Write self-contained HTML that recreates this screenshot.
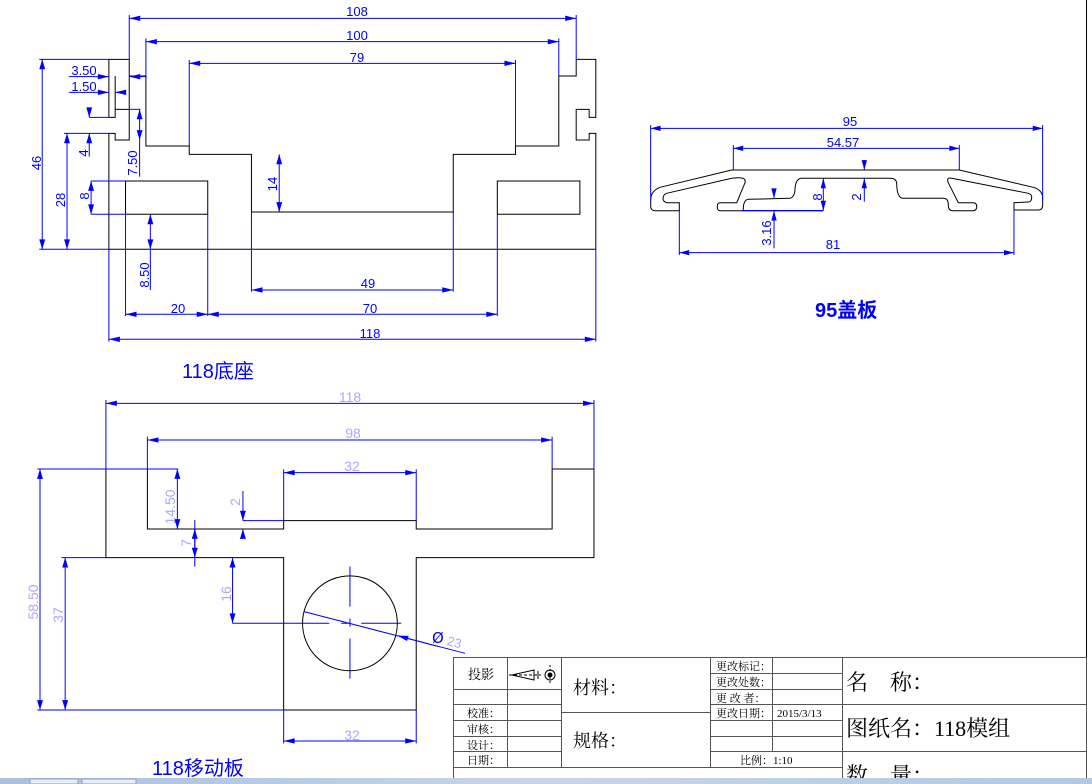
<!DOCTYPE html>
<html><head><meta charset="utf-8"><style>
html,body{margin:0;padding:0;background:#fff;}
svg{display:block;}
.d{font-family:"Liberation Sans",sans-serif;font-size:13px;fill:#0000ff;text-anchor:middle;}
.l{font-family:"Liberation Sans",sans-serif;font-size:14px;fill:#a8a8ff;text-anchor:middle;}
.t{font-family:"Liberation Serif","Noto Serif CJK SC",serif;fill:#000;}
.lab{font-family:"Liberation Sans","Noto Sans CJK SC",sans-serif;font-size:20px;fill:#0000ff;}
</style></head><body>
<svg width="1092" height="784" viewBox="0 0 1092 784" xmlns="http://www.w3.org/2000/svg">
<defs>
<marker id="a" markerUnits="userSpaceOnUse" markerWidth="40" markerHeight="40" viewBox="-30 -10 35 20" refX="0" refY="0" orient="auto-start-reverse"><path d="M0,0 L-26,-7 L-26,7 z" fill="#0000ff"/></marker>
</defs>
<rect width="1092" height="784" fill="#fff"/>
<line x1="1086.5" y1="0" x2="1086.5" y2="778" stroke="#000" stroke-width="1"/>

<!-- TOP DRAWING -->
<g transform="translate(30,0) scale(0.3703,0.3333)" fill="none" stroke-width="1">
<g stroke="#000" vector-effect="non-scaling-stroke">
<polyline vector-effect="non-scaling-stroke" points="213,352 213,178 268,178 268,420 230,420 230,400 213,400 213,748 1528,748 1528,400 1510,400 1510,420 1475,420 1475,328 1510,328 1510,352 1528,352 1528,178 1475,178 1475,228 1428,228 1428,438 1311,438 1311,463 1143,463 1143,636 598,636 598,463 430,463 430,438 313,438 313,228 268,228"/>
<polyline vector-effect="non-scaling-stroke" points="213,352 230,352 230,328 268,328"/>
<polyline vector-effect="non-scaling-stroke" points="230,228 230,328"/>
<rect vector-effect="non-scaling-stroke" x="258" y="543" width="222" height="100"/>
<rect vector-effect="non-scaling-stroke" x="1262" y="543" width="223" height="100"/>
</g>
<g stroke="#0000ff">
<line vector-effect="non-scaling-stroke" x1="268" y1="55" x2="1475" y2="55" marker-start="url(#a)" marker-end="url(#a)"/>
<line vector-effect="non-scaling-stroke" x1="268" y1="45" x2="268" y2="178"/><line vector-effect="non-scaling-stroke" x1="1475" y1="45" x2="1475" y2="178"/>
<line vector-effect="non-scaling-stroke" x1="313" y1="125" x2="1428" y2="125" marker-start="url(#a)" marker-end="url(#a)"/>
<line vector-effect="non-scaling-stroke" x1="313" y1="115" x2="313" y2="228"/><line vector-effect="non-scaling-stroke" x1="1428" y1="115" x2="1428" y2="228"/>
<line vector-effect="non-scaling-stroke" x1="430" y1="190" x2="1311" y2="190" marker-start="url(#a)" marker-end="url(#a)"/>
<line vector-effect="non-scaling-stroke" x1="430" y1="180" x2="430" y2="438"/><line vector-effect="non-scaling-stroke" x1="1311" y1="180" x2="1311" y2="438"/>
<line vector-effect="non-scaling-stroke" x1="33" y1="178" x2="33" y2="748" marker-start="url(#a)" marker-end="url(#a)"/>
<line vector-effect="non-scaling-stroke" x1="25" y1="178" x2="213" y2="178"/><line vector-effect="non-scaling-stroke" x1="25" y1="748" x2="213" y2="748"/>
<line vector-effect="non-scaling-stroke" x1="100" y1="400" x2="100" y2="748" marker-start="url(#a)" marker-end="url(#a)"/>
<line vector-effect="non-scaling-stroke" x1="92" y1="400" x2="213" y2="400"/>
<line vector-effect="non-scaling-stroke" x1="105" y1="230" x2="213" y2="230" marker-end="url(#a)"/>
<line vector-effect="non-scaling-stroke" x1="315" y1="230" x2="268" y2="230" marker-end="url(#a)"/>
<line vector-effect="non-scaling-stroke" x1="105" y1="277" x2="213" y2="277" marker-end="url(#a)"/>
<line vector-effect="non-scaling-stroke" x1="252" y1="277" x2="230" y2="277" marker-end="url(#a)"/>
<line vector-effect="non-scaling-stroke" x1="160" y1="325" x2="160" y2="352" marker-end="url(#a)"/>
<line vector-effect="non-scaling-stroke" x1="160" y1="470" x2="160" y2="400" marker-end="url(#a)"/>
<line vector-effect="non-scaling-stroke" x1="160" y1="352" x2="213" y2="352"/>
<line vector-effect="non-scaling-stroke" x1="296" y1="328" x2="296" y2="420" marker-start="url(#a)" marker-end="url(#a)"/>
<line vector-effect="non-scaling-stroke" x1="296" y1="420" x2="296" y2="530"/>
<line vector-effect="non-scaling-stroke" x1="268" y1="328" x2="298" y2="328"/>
<line vector-effect="non-scaling-stroke" x1="165" y1="543" x2="165" y2="643" marker-start="url(#a)" marker-end="url(#a)"/>
<line vector-effect="non-scaling-stroke" x1="165" y1="543" x2="258" y2="543"/><line vector-effect="non-scaling-stroke" x1="165" y1="643" x2="258" y2="643"/>
<line vector-effect="non-scaling-stroke" x1="325" y1="643" x2="325" y2="748" marker-start="url(#a)" marker-end="url(#a)"/>
<line vector-effect="non-scaling-stroke" x1="325" y1="748" x2="325" y2="870"/>
<line vector-effect="non-scaling-stroke" x1="673" y1="463" x2="673" y2="636" marker-start="url(#a)" marker-end="url(#a)"/>
<line vector-effect="non-scaling-stroke" x1="598" y1="870" x2="1143" y2="870" marker-start="url(#a)" marker-end="url(#a)"/>
<line vector-effect="non-scaling-stroke" x1="598" y1="636" x2="598" y2="875"/><line vector-effect="non-scaling-stroke" x1="1143" y1="636" x2="1143" y2="875"/>
<line vector-effect="non-scaling-stroke" x1="258" y1="943" x2="480" y2="943" marker-start="url(#a)" marker-end="url(#a)"/>
<line vector-effect="non-scaling-stroke" x1="480" y1="943" x2="1262" y2="943" marker-start="url(#a)" marker-end="url(#a)"/>
<line vector-effect="non-scaling-stroke" x1="258" y1="643" x2="258" y2="948"/><line vector-effect="non-scaling-stroke" x1="480" y1="643" x2="480" y2="948"/><line vector-effect="non-scaling-stroke" x1="1262" y1="643" x2="1262" y2="948"/>
<line vector-effect="non-scaling-stroke" x1="213" y1="1018" x2="1528" y2="1018" marker-start="url(#a)" marker-end="url(#a)"/>
<line vector-effect="non-scaling-stroke" x1="213" y1="748" x2="213" y2="1025"/><line vector-effect="non-scaling-stroke" x1="1528" y1="748" x2="1528" y2="1025"/>
</g>
</g>
<text class="d" x="357" y="16">108</text>
<text class="d" x="357" y="40">100</text>
<text class="d" x="357" y="62">79</text>
<text class="d" x="84" y="75">3.50</text>
<text class="d" x="84" y="91">1.50</text>
<text class="d" transform="translate(41,163) rotate(-90)">46</text>
<text class="d" transform="translate(65,200) rotate(-90)">28</text>
<text class="d" transform="translate(88,153) rotate(-90)">4</text>
<text class="d" transform="translate(137,163) rotate(-90)">7.50</text>
<text class="d" transform="translate(89,196) rotate(-90)">8</text>
<text class="d" transform="translate(149,275) rotate(-90)">8.50</text>
<text class="d" transform="translate(277,184) rotate(-90)">14</text>
<text class="d" x="368" y="288">49</text>
<text class="d" x="178" y="313">20</text>
<text class="d" x="370" y="313">70</text>
<text class="d" x="370" y="338">118</text>
<text class="lab" x="182" y="378">118底座</text>

<!-- RIGHT DRAWING -->
<path d="M731.7,170 L660,187.3 Q650.7,191 650.7,200 L650.7,206.7 Q651,210.7 655,210.7 L679.3,210.7 L679.3,202.7 L666.7,202.7 Q662,201 663.3,197.3 Q663.5,194.5 666.7,193.3 L731.7,178.3 Q747,176 745,182.7 L736.7,202.7 L720,202.7 Q717,203 717.3,206.7 Q717.3,210.7 720,210.7 L743.3,210.7 Q743,200 748.3,199.3 L790,198.3 Q795,197 795,188.3 Q796,178.3 801.7,178.3 L890,178.3 Q896.7,178.3 896.7,184 Q897,198.3 903.3,198.3 L943.3,198.3 Q948.3,198.3 948.3,205 Q948.3,210.7 953,210.7 L973.3,210.7 Q977,210 976.7,206.7 Q976.7,202.7 973.3,202.7 L958.3,202.7 L948.3,182.7 Q946,177 951.7,178.3 L1028.3,193.3 Q1032,194.5 1031.7,197.3 Q1031.7,202 1028.3,202 L1014,202.7 L1014,210 L1038.3,210 Q1042.7,210 1042.7,205 L1042.7,198.3 Q1042.7,190 1033.3,187.3 L959.3,170 Z" fill="none" stroke="#000" stroke-width="1"/>
<g transform="translate(630,110) scale(0.3333)" fill="none" stroke="#0000ff">
<line vector-effect="non-scaling-stroke" x1="62" y1="55" x2="1238" y2="55" marker-start="url(#a)" marker-end="url(#a)"/>
<line vector-effect="non-scaling-stroke" x1="62" y1="45" x2="62" y2="270"/><line vector-effect="non-scaling-stroke" x1="1238" y1="45" x2="1238" y2="270"/>
<line vector-effect="non-scaling-stroke" x1="310" y1="115" x2="988" y2="115" marker-start="url(#a)" marker-end="url(#a)"/>
<line vector-effect="non-scaling-stroke" x1="310" y1="105" x2="310" y2="180"/><line vector-effect="non-scaling-stroke" x1="988" y1="105" x2="988" y2="180"/>
<line vector-effect="non-scaling-stroke" x1="703" y1="150" x2="703" y2="180" marker-end="url(#a)"/>
<line vector-effect="non-scaling-stroke" x1="703" y1="275" x2="703" y2="205" marker-end="url(#a)"/>
<line vector-effect="non-scaling-stroke" x1="580" y1="205" x2="580" y2="302" marker-start="url(#a)" marker-end="url(#a)"/>
<line vector-effect="non-scaling-stroke" x1="432" y1="236" x2="432" y2="265" marker-end="url(#a)"/>
<line vector-effect="non-scaling-stroke" x1="432" y1="415" x2="432" y2="302" marker-end="url(#a)"/>
<line x1="335" y1="302" x2="580" y2="302" stroke-width="4"/>
<line vector-effect="non-scaling-stroke" x1="148" y1="428" x2="1152" y2="428" marker-start="url(#a)" marker-end="url(#a)"/>
<line vector-effect="non-scaling-stroke" x1="148" y1="300" x2="148" y2="435"/><line vector-effect="non-scaling-stroke" x1="1152" y1="300" x2="1152" y2="435"/>
</g>
<text class="d" x="850" y="126">95</text>
<text class="d" x="843" y="147">54.57</text>
<text class="d" transform="translate(861,197) rotate(-90)">2</text>
<text class="d" transform="translate(822,197) rotate(-90)">8</text>
<text class="d" transform="translate(771,233) rotate(-90)">3.16</text>
<text class="d" x="833" y="249">81</text>
<text class="lab" x="815" y="317" style="font-weight:bold">95盖板</text>

<!-- BOTTOM DRAWING -->
<g transform="translate(30,385) scale(0.3703,0.3333)" fill="none">
<polyline vector-effect="non-scaling-stroke" stroke="#000" points="317,252 205,252 205,518 685,518 685,975 1043,975 1043,518 1523,518 1523,252 1410,252 1410,432 1043,432 1043,407 685,407 685,432 317,432 317,252"/>
<ellipse vector-effect="non-scaling-stroke" stroke="#000" cx="864" cy="715" rx="128" ry="142.5"/>
<g stroke="#0000ff">
<line vector-effect="non-scaling-stroke" x1="864" y1="545" x2="864" y2="888" stroke-dasharray="40 12 8 12"/>
<line vector-effect="non-scaling-stroke" x1="700" y1="715" x2="1020" y2="715" stroke-dasharray="40 12 8 12"/>
<line vector-effect="non-scaling-stroke" x1="205" y1="55" x2="1523" y2="55" marker-start="url(#a)" marker-end="url(#a)"/>
<line vector-effect="non-scaling-stroke" x1="205" y1="45" x2="205" y2="252"/><line vector-effect="non-scaling-stroke" x1="1523" y1="45" x2="1523" y2="252"/>
<line vector-effect="non-scaling-stroke" x1="317" y1="165" x2="1410" y2="165" marker-start="url(#a)" marker-end="url(#a)"/>
<line vector-effect="non-scaling-stroke" x1="317" y1="155" x2="317" y2="252"/><line vector-effect="non-scaling-stroke" x1="1410" y1="155" x2="1410" y2="252"/>
<line vector-effect="non-scaling-stroke" x1="685" y1="263" x2="1043" y2="263" marker-start="url(#a)" marker-end="url(#a)"/>
<line vector-effect="non-scaling-stroke" x1="685" y1="253" x2="685" y2="407"/><line vector-effect="non-scaling-stroke" x1="1043" y1="253" x2="1043" y2="407"/>
<line vector-effect="non-scaling-stroke" x1="398" y1="252" x2="398" y2="432" marker-start="url(#a)" marker-end="url(#a)"/>
<line vector-effect="non-scaling-stroke" x1="20" y1="252" x2="400" y2="252"/>
<line vector-effect="non-scaling-stroke" x1="575" y1="318" x2="575" y2="407" marker-end="url(#a)"/>
<line vector-effect="non-scaling-stroke" x1="575" y1="458" x2="575" y2="432" marker-end="url(#a)"/>
<line vector-effect="non-scaling-stroke" x1="575" y1="407" x2="685" y2="407"/>
<line vector-effect="non-scaling-stroke" x1="445" y1="432" x2="445" y2="518" marker-start="url(#a)" marker-end="url(#a)"/>
<line vector-effect="non-scaling-stroke" x1="445" y1="405" x2="445" y2="545"/>
<line vector-effect="non-scaling-stroke" x1="547" y1="518" x2="547" y2="715" marker-start="url(#a)" marker-end="url(#a)"/>
<line vector-effect="non-scaling-stroke" x1="547" y1="715" x2="700" y2="715"/>
<line vector-effect="non-scaling-stroke" x1="27" y1="252" x2="27" y2="975" marker-start="url(#a)" marker-end="url(#a)"/>
<line vector-effect="non-scaling-stroke" x1="95" y1="518" x2="95" y2="975" marker-start="url(#a)" marker-end="url(#a)"/>
<line vector-effect="non-scaling-stroke" x1="85" y1="518" x2="205" y2="518"/>
<line vector-effect="non-scaling-stroke" x1="20" y1="975" x2="685" y2="975"/>
<line vector-effect="non-scaling-stroke" x1="685" y1="1068" x2="1043" y2="1068" marker-start="url(#a)" marker-end="url(#a)"/>
<line vector-effect="non-scaling-stroke" x1="685" y1="975" x2="685" y2="1075"/><line vector-effect="non-scaling-stroke" x1="1043" y1="975" x2="1043" y2="1075"/>
<line vector-effect="non-scaling-stroke" x1="740" y1="680" x2="1175" y2="805"/>
<line vector-effect="non-scaling-stroke" x1="1100" y1="784" x2="992" y2="752" marker-end="url(#a)"/>
</g>
</g>
<text class="l" x="350" y="402">118</text>
<text class="l" x="353" y="438">98</text>
<text class="l" x="352" y="471">32</text>
<text class="l" transform="translate(175,507) rotate(-90)">14.50</text>
<text class="l" transform="translate(240,502) rotate(-90)">2</text>
<text class="l" transform="translate(191,543) rotate(-90)">7</text>
<text class="l" transform="translate(231,594) rotate(-90)">16</text>
<text class="l" transform="translate(38,602) rotate(-90)">58.50</text>
<text class="l" transform="translate(63,615) rotate(-90)">37</text>
<text class="l" x="352" y="740">32</text>
<text x="432" y="643" style="font-family:'DejaVu Sans',sans-serif;font-size:15px;fill:#0000ff">Ø</text>
<text x="447" y="647" transform="rotate(15 455 643)" style="font-family:'Liberation Sans',sans-serif;font-size:13px;fill:#a8a8ff">23</text>
<text class="lab" x="152" y="775">118移动板</text>

<!-- TITLE BLOCK -->
<g stroke="#555" stroke-width="1" fill="none">
<rect x="453.5" y="657.5" width="633" height="125"/>
<line x1="507.5" y1="657" x2="507.5" y2="767"/>
<line x1="561.5" y1="657" x2="561.5" y2="767"/>
<line x1="710.5" y1="657" x2="710.5" y2="767"/>
<line x1="772.5" y1="657" x2="772.5" y2="752"/>
<line x1="842.5" y1="657" x2="842.5" y2="784"/>
<line x1="453" y1="689.5" x2="561" y2="689.5"/>
<line x1="453" y1="704.5" x2="561" y2="704.5"/>
<line x1="453" y1="720.5" x2="561" y2="720.5"/>
<line x1="453" y1="736.5" x2="561" y2="736.5"/>
<line x1="453" y1="751.5" x2="561" y2="751.5"/>
<line x1="453" y1="767.5" x2="842" y2="767.5"/>
<line x1="561" y1="712.5" x2="710" y2="712.5"/>
<line x1="710" y1="673.5" x2="842" y2="673.5"/>
<line x1="710" y1="689.5" x2="842" y2="689.5"/>
<line x1="710" y1="704.5" x2="842" y2="704.5"/>
<line x1="710" y1="720.5" x2="842" y2="720.5"/>
<line x1="710" y1="736.5" x2="842" y2="736.5"/>
<line x1="710" y1="751.5" x2="842" y2="751.5"/>
<line x1="842" y1="704.5" x2="1086" y2="704.5"/>
<line x1="842" y1="751.5" x2="1086" y2="751.5"/>
</g>
<g stroke="#000" stroke-width="1" fill="none">
<polygon points="512,675 534,670 534,680"/>
<line x1="509" y1="675" x2="541" y2="675" stroke-dasharray="3 2"/>
<line x1="538" y1="671" x2="538" y2="679"/>
<circle cx="550" cy="675" r="5"/>
<circle cx="550" cy="675" r="2" fill="#000"/>
<line x1="550" y1="665" x2="550" y2="685" stroke-dasharray="2 2"/>
</g>
<text class="t" x="468" y="679" style="font-size:13px">投影</text>
<text class="t" x="573" y="694" style="font-size:18px">材料：</text>
<text class="t" x="573" y="747" style="font-size:18px">规格：</text>
<text class="t" x="467" y="717" style="font-size:11px">校准：</text>
<text class="t" x="467" y="733" style="font-size:11px">审核：</text>
<text class="t" x="467" y="749" style="font-size:11px">设计：</text>
<text class="t" x="467" y="764" style="font-size:11px">日期：</text>
<text class="t" x="716" y="670" style="font-size:11px">更改标记：</text>
<text class="t" x="716" y="686" style="font-size:11px">更改处数：</text>
<text class="t" x="716" y="702" style="font-size:11px">更 改 者：</text>
<text class="t" x="716" y="717" style="font-size:11px">更改日期：</text>
<text class="t" x="777" y="717" style="font-size:11px">2015/3/13</text>
<text class="t" x="740" y="764" style="font-size:11px">比例：1:10</text>
<text class="t" x="846" y="690" style="font-size:22px">名　称：</text>
<text class="t" x="846" y="736" style="font-size:22px">图纸名：118模组</text>
<text class="t" x="846" y="783" style="font-size:22px">数　量：</text>

<!-- taskbar -->
<defs><linearGradient id="tb" x1="0" x2="1"><stop offset="0" stop-color="#a9c0de"/><stop offset="0.5" stop-color="#c6d6ea"/><stop offset="1" stop-color="#b4c8e2"/></linearGradient></defs>
<rect x="0" y="778" width="1092" height="6" fill="url(#tb)"/>
<rect x="30" y="779" width="48" height="5" fill="#e8eef6" stroke="#8ca0bc"/>
<rect x="82" y="779" width="54" height="5" fill="#e8eef6" stroke="#8ca0bc"/>
</svg>
</body></html>
